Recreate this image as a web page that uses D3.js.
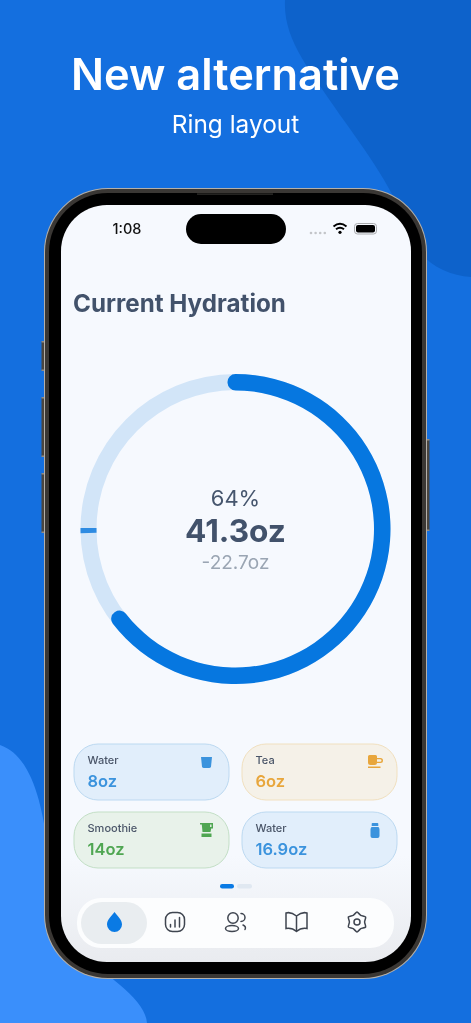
<!DOCTYPE html>
<html>
<head>
<meta charset="utf-8">
<script src="https://cdn.jsdelivr.net/npm/d3@7"></script>
<style>
  html, body { margin: 0; padding: 0; background: #146fdf; overflow: hidden; }
  svg { display: block; font-family: Inter, "Noto Sans", sans-serif; filter: blur(0.3px); }
</style>
</head>
<body>
<svg id="chart" width="471" height="1023"></svg>
<script>
// Hydration ring values
var goalOz = 64;
var currentOz = 41.3;
var markerOz = 47.9;
var percentLabel = "64%";
var currentLabel = "41.3oz";
var remainingLabel = "-22.7oz";

// Drink cards
var drinkNames = ["Water", "Tea", "Smoothie", "Water"];
var drinkAmounts = ["8oz", "6oz", "14oz", "16.9oz"];
var drinkIcons = ["cup", "tea", "blender", "bottle"];
var drinkColors = ["#3b93dd", "#e8a63c", "#4fa652", "#3b93dd"];
var drinkFills = ["#e1eefb", "#f5f1e8", "#e8f2ea", "#e1eefb"];
var drinkBorders = ["#bcd9f1", "#f1e0bf", "#c3dfc6", "#bcd9f1"];

var svg = d3.select("#chart");
var defs = svg.append("defs");

// Screen shading towards the tab bar
var shade = defs.append("linearGradient").attr("id", "screenShade")
  .attr("x1", 0).attr("y1", 0).attr("x2", 0).attr("y2", 1);
shade.append("stop").attr("offset", "0.86").attr("stop-color", "#f6f9fe");
shade.append("stop").attr("offset", "1").attr("stop-color", "#e9ebef");

// Background blobs
svg.append("rect").attr("width", 471).attr("height", 1023).attr("fill", "#146fdf");
svg.append("path")
  .attr("d", "M285,0 C283,40 310,70 340,115 C365,150 395,190 410,235 C420,262 445,275 471,277 L471,0 Z")
  .attr("fill", "#0d62cb");
svg.append("path")
  .attr("d", "M0,745 C30,755 42,800 48,850 C55,920 90,960 120,985 C135,998 146,1010 147,1023 L0,1023 Z")
  .attr("fill", "#3a8ffb");

// Headline
svg.append("text").attr("x", 235.5).attr("y", 90).attr("text-anchor", "middle")
  .attr("fill", "#fff").attr("font-size", 43.4).attr("font-weight", 600).text("New alternative");
svg.append("text").attr("x", 235.5).attr("y", 133).attr("text-anchor", "middle")
  .attr("fill", "#fff").attr("font-size", 24.4).attr("font-weight", 400).text("Ring layout");

// Phone side buttons
[[41.5, 341, 3, 30], [41.5, 397, 3, 60], [41.5, 473, 3, 60], [426.5, 439, 3, 92]].forEach(function (b) {
  svg.append("rect").attr("x", b[0]).attr("y", b[1]).attr("width", b[2]).attr("height", b[3])
    .attr("rx", 1).attr("fill", "#4a4641");
  svg.append("rect").attr("x", b[0]).attr("y", b[1]).attr("width", b[2]).attr("height", 1.5).attr("fill", "#8f8b85");
  svg.append("rect").attr("x", b[0]).attr("y", b[1] + b[3] - 1.5).attr("width", b[2]).attr("height", 1.5).attr("fill", "#8f8b85");
});

// Phone frame
svg.append("rect").attr("x", 44).attr("y", 188).attr("width", 383).attr("height", 791)
  .attr("rx", 64).attr("fill", "#b4b0aa");
svg.append("rect").attr("x", 45).attr("y", 189).attr("width", 381).attr("height", 789)
  .attr("rx", 63).attr("fill", "#3a3734");
svg.append("rect").attr("x", 49).attr("y", 193).attr("width", 373).attr("height", 781)
  .attr("rx", 59).attr("fill", "#000");
svg.append("rect").attr("x", 197).attr("y", 193.5).attr("width", 76).attr("height", 1.2)
  .attr("fill", "#34322f");
svg.append("rect").attr("x", 61).attr("y", 205).attr("width", 350).attr("height", 757)
  .attr("rx", 46).attr("fill", "url(#screenShade)");

// Status bar
svg.append("text").attr("x", 127).attr("y", 234).attr("text-anchor", "middle")
  .attr("fill", "#111").attr("font-size", 14.5).attr("font-weight", 500).text("1:08");
svg.append("rect").attr("x", 186).attr("y", 214).attr("width", 100).attr("height", 30)
  .attr("rx", 15).attr("fill", "#000");
d3.range(4).forEach(function (i) {
  svg.append("circle").attr("cx", 311 + i * 4.6).attr("cy", 233).attr("r", 1.3).attr("fill", "#c3c5c9");
});
svg.append("path")
  .attr("d", "M333.5,226.5 Q340,221 346.5,226.5 M336,229.3 Q340,226 344,229.3")
  .attr("fill", "none").attr("stroke", "#000").attr("stroke-width", 1.9);
svg.append("circle").attr("cx", 340).attr("cy", 232.3).attr("r", 1.6).attr("fill", "#000");
svg.append("rect").attr("x", 354.5).attr("y", 223.5).attr("width", 22).attr("height", 10.5)
  .attr("rx", 3).attr("fill", "none").attr("stroke", "#a9abae");
svg.append("rect").attr("x", 356).attr("y", 225).attr("width", 19).attr("height", 7.5)
  .attr("rx", 2).attr("fill", "#000");

// Title
svg.append("text").attr("x", 73).attr("y", 312).attr("fill", "#42526b")
  .attr("font-size", 24.2).attr("font-weight", 700).text("Current Hydration");

// Ring
var cx = 235.5, cy = 529, outerR = 155, innerR = 139;
var capAngle = 8 / 147; // round cap overhang past each end of the progress arc
var ring = svg.append("g").attr("transform", "translate(" + cx + "," + cy + ")");
var angle = d3.scaleLinear().domain([0, goalOz]).range([0, 2 * Math.PI]);
var arc = d3.arc().innerRadius(innerR).outerRadius(outerR);

ring.append("path")
  .attr("d", arc({ startAngle: 0, endAngle: angle(goalOz) }))
  .attr("fill", "#d2e5f8");
ring.append("path")
  .attr("d", arc({ startAngle: angle(markerOz) - 0.017, endAngle: angle(markerOz) + 0.017 }))
  .attr("fill", "#2e8be2");
ring.append("path")
  .attr("d", arc.innerRadius(innerR - 0.5).cornerRadius(8)({ startAngle: -capAngle, endAngle: angle(currentOz) + capAngle }))
  .attr("fill", "#0677e0");

// Ring labels
svg.append("text").attr("x", 235.5).attr("y", 506).attr("text-anchor", "middle")
  .attr("fill", "#46566e").attr("font-size", 22).attr("font-weight", 400).text(percentLabel);
svg.append("text").attr("x", 235.5).attr("y", 542).attr("text-anchor", "middle")
  .attr("fill", "#42526b").attr("font-size", 31.6).attr("font-weight", 700).text(currentLabel);
svg.append("text").attr("x", 235.5).attr("y", 569).attr("text-anchor", "middle")
  .attr("fill", "#9aa5b3").attr("font-size", 19).attr("font-weight", 400).text(remainingLabel);

// Drink cards, two by two
var cardX = d3.scalePoint().domain([0, 1]).range([74, 242]);
var cardY = d3.scalePoint().domain([0, 1]).range([744, 812]);
var iconPaths = {
  cup: "M-5.5,-5.5 H5.5 L4.5,4 Q4.2,5.5 2.5,5.5 H-2.5 Q-4.2,5.5 -4.5,4 Z",
  tea: "M-7.5,-5 Q-7.5,-6.5 -6,-6.5 H0 Q1.5,-6.5 1.5,-5 V1 Q1.5,3.5 -1,3.5 H-5 Q-7.5,3.5 -7.5,1 Z M1.5,-3.5 H5 Q7.5,-3.5 7.5,-1 Q7.5,1.5 5,1.5 H1.5 V.2 H4.5 Q6,.2 6,-1 Q6,-2.2 4.5,-2.2 H1.5 Z M-7.5,5 H5 V6.5 H-7.5 Z",
  blender: "M-6.5,-7 H6.5 V-1.5 H4.7 L4,2 H-4 L-4.7,-5.5 H-6.5 Z M5,-5.5 H3.6 V-3 H5 Z M-5,3.5 H5 V7 H-5 Z",
  bottle: "M-2.5,-7.5 H2.5 Q3.3,-7.5 3.3,-6.7 V-4.5 H-3.3 V-6.7 Q-3.3,-7.5 -2.5,-7.5 Z M-3.5,-3.5 H3.5 Q4.5,-2.5 4.5,-1 V5.5 Q4.5,7.5 2.5,7.5 H-2.5 Q-4.5,7.5 -4.5,5.5 V-1 Q-4.5,-2.5 -3.5,-3.5 Z"
};
var iconOffsets = [[132.5, 18.5], [133.5, 17.5], [132.5, 18], [133, 18.5]];

drinkNames.forEach(function (name, i) {
  var g = svg.append("g")
    .attr("transform", "translate(" + cardX(i % 2) + "," + cardY(Math.floor(i / 2)) + ")");
  g.append("rect").attr("x", 0).attr("y", 0).attr("width", 155).attr("height", 56).attr("rx", 24)
    .attr("fill", drinkFills[i]).attr("stroke", drinkBorders[i]);
  g.append("text").attr("x", 13.5).attr("y", 20).attr("fill", "#4a5568")
    .attr("font-size", 11).attr("font-weight", 500).text(name);
  g.append("text").attr("x", 13.5).attr("y", 43).attr("fill", drinkColors[i])
    .attr("font-size", 16.5).attr("font-weight", 600).text(drinkAmounts[i]);
  g.append("path").attr("transform", "translate(" + iconOffsets[i] + ")")
    .attr("d", iconPaths[drinkIcons[i]]).attr("fill", drinkColors[i]).attr("fill-rule", "evenodd");
});

// Page dots
svg.append("rect").attr("x", 220).attr("y", 884).attr("width", 14).attr("height", 4.5)
  .attr("rx", 2.2).attr("fill", "#0a7ae4");
svg.append("rect").attr("x", 237).attr("y", 884).attr("width", 15).attr("height", 4.5)
  .attr("rx", 2.2).attr("fill", "#e0e8f1");

// Tab bar
svg.append("rect").attr("x", 77).attr("y", 898).attr("width", 317).attr("height", 50)
  .attr("rx", 24).attr("fill", "#fcfdfe");
svg.append("rect").attr("x", 81).attr("y", 902).attr("width", 66).attr("height", 42)
  .attr("rx", 21).attr("fill", "#e9edf0");

// Tab icons
svg.append("path")
  .attr("d", "M114.5,912 C117.5,916 122,919.5 122,924.5 A7.5,7.5 0 0 1 107,924.5 C107,919.5 111.5,916 114.5,912 Z")
  .attr("fill", "#0a7ae4");
var icons = svg.append("g").attr("fill", "none").attr("stroke", "#3f4550")
  .attr("stroke-width", 1.5).attr("stroke-linecap", "round");
icons.append("rect").attr("x", 165.5).attr("y", 912.5).attr("width", 19).attr("height", 19).attr("rx", 7);
icons.append("path").attr("d", "M170.5,927 V924.5 M175,927 V920 M179.5,927 V917.5");
icons.append("circle").attr("cx", 233).attr("cy", 918).attr("r", 5.2);
icons.append("ellipse").attr("cx", 232).attr("cy", 928.5).attr("rx", 6.5).attr("ry", 3);
icons.append("path").attr("d", "M241,913.5 A4,4 0 0 1 241,921.5 M243,925 Q246.5,926.5 245,929.5");
icons.append("path").attr("d", "M296.5,916 Q291,911.5 286,913 V928.5 Q292,927.5 296.5,931.5 Q301,927.5 307,928.5 V913 Q302,911.5 296.5,916 Z M296.5,916 V931.5");
icons.append("circle").attr("cx", 357).attr("cy", 922).attr("r", 3);
// gear outline, six lobes
var gear = d3.lineRadial().curve(d3.curveCardinalClosed.tension(0.35))
  .angle(function (d, i) { return i / 12 * 2 * Math.PI; })
  .radius(function (d) { return d; });
icons.append("path").attr("transform", "translate(357,922)")
  .attr("d", gear([10, 7.6, 10, 7.6, 10, 7.6, 10, 7.6, 10, 7.6, 10, 7.6]))
  .attr("stroke-linejoin", "round");
</script>
</body>
</html>
